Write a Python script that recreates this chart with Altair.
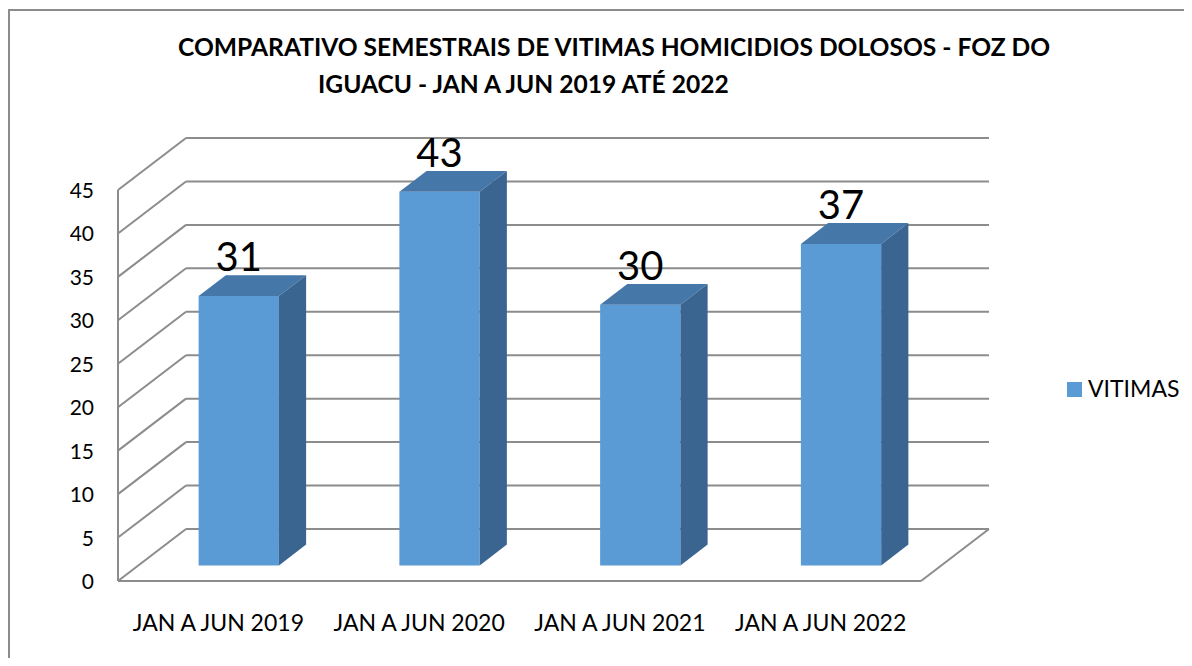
import altair as alt
import pandas as pd

# ---------------- data ----------------
categories = ["JAN A JUN 2019", "JAN A JUN 2020", "JAN A JUN 2021", "JAN A JUN 2022"]
vitimas = [31, 43, 30, 37]
y_ticks = [0, 5, 10, 15, 20, 25, 30, 35, 40, 45]
series_name = "VITIMAS"
title_lines = [
    "COMPARATIVO SEMESTRAIS DE VITIMAS HOMICIDIOS DOLOSOS - FOZ DO",
    "IGUACU - JAN A JUN 2019 ATÉ 2022",
]

# ---------------- layout / style ----------------
W, H = 1176, 650
PX_CAT = 200.75          # pixels per category slot
PX_VAL = 8.689           # pixels per value unit
X0 = 110                 # view px of front-left corner of floor
Y0 = 573                 # view px of value 0 on the front plane
DEPTH_X = 68 / PX_CAT    # oblique depth in category units
DEPTH_Y = 52 / PX_VAL    # oblique depth in value units
BAR_W = 0.4
BAR_D0, BAR_D1 = 0.3, 0.7
FONT = "Lato"
GRID = "#8c8c8c"
FRONT, TOP, SIDE = "#5b9bd5", "#4677a9", "#3a6591"

n = len(categories)
y_max = max(y_ticks)

xs = alt.Scale(domain=[-X0 / PX_CAT, (W - X0) / PX_CAT], nice=False, zero=False)
ys = alt.Scale(domain=[-(H - Y0) / PX_VAL, Y0 / PX_VAL], nice=False, zero=False)

# ---------------- grid (walls and floor) ----------------
seg = []
for t in y_ticks:
    seg.append(dict(x=DEPTH_X, x2=n + DEPTH_X, y=t + DEPTH_Y, y2=t + DEPTH_Y))
    seg.append(dict(x=0, x2=DEPTH_X, y=t, y2=t + DEPTH_Y))
seg.append(dict(x=0, x2=0, y=0, y2=y_max))
seg.append(dict(x=0, x2=n, y=0, y2=0))
seg.append(dict(x=n, x2=n + DEPTH_X, y=0, y2=DEPTH_Y))
seg_df = pd.DataFrame(seg)

grid = alt.Chart(seg_df).mark_rule(color=GRID, strokeWidth=2).encode(
    x=alt.X("x:Q", scale=xs, axis=None),
    x2="x2:Q",
    y=alt.Y("y:Q", scale=ys, axis=None),
    y2="y2:Q",
)

# ---------------- bars ----------------
dD = (BAR_D1 - BAR_D0) * DEPTH_X
dY = (BAR_D1 - BAR_D0) * DEPTH_Y
front_rows, top_rows, side_rows, lab_rows = [], [], [], []
for i, (c, v) in enumerate(zip(categories, vitimas)):
    cx = i + 0.5 + BAR_D0 * DEPTH_X
    xl, xr = cx - BAR_W / 2, cx + BAR_W / 2
    bot = BAR_D0 * DEPTH_Y
    top = v + bot
    front_rows.append(dict(cat=c, series=series_name, xl=xl, xr=xr, bot=bot, top=top))
    for px, lo, hi in [(xl, top, top), (xl + dD, top, top + dY),
                       (xr, top, top + dY), (xr + dD, top + dY, top + dY)]:
        top_rows.append(dict(cat=c, x=px, lo=lo, hi=hi))
    for px, lo, hi in [(xr, bot, top), (xr + dD, bot + dY, top + dY)]:
        side_rows.append(dict(cat=c, x=px, lo=lo, hi=hi))
    lab_rows.append(dict(cat=c, x=cx, y=v + BAR_D1 * DEPTH_Y, label=str(v)))

front = alt.Chart(pd.DataFrame(front_rows)).mark_rect().encode(
    x=alt.X("xl:Q", scale=xs, axis=None),
    x2="xr:Q",
    y=alt.Y("bot:Q", scale=ys, axis=None),
    y2="top:Q",
    color=alt.Color(
        "series:N",
        scale=alt.Scale(domain=[series_name], range=[FRONT]),
        legend=alt.Legend(
            orient="none", legendX=1055, legendY=370, title=None,
            symbolType="square", symbolSize=225, symbolStrokeWidth=0,
            labelFontSize=23, labelFont=FONT, labelColor="#000000",
            labelOffset=2, padding=0,
        ),
    ),
)

tops = alt.Chart(pd.DataFrame(top_rows)).mark_area(color=TOP, opacity=1).encode(
    x=alt.X("x:Q", scale=xs, axis=None),
    y=alt.Y("lo:Q", scale=ys, axis=None, stack=None),
    y2="hi:Q",
    detail="cat:N",
)

sides = alt.Chart(pd.DataFrame(side_rows)).mark_area(color=SIDE, opacity=1).encode(
    x=alt.X("x:Q", scale=xs, axis=None),
    y=alt.Y("lo:Q", scale=ys, axis=None, stack=None),
    y2="hi:Q",
    detail="cat:N",
)

labels = alt.Chart(pd.DataFrame(lab_rows)).mark_text(
    font=FONT, fontSize=40, color="#000000", baseline="alphabetic", dy=-4
).encode(
    x=alt.X("x:Q", scale=xs, axis=None),
    y=alt.Y("y:Q", scale=ys, axis=None),
    text="label:N",
)

# ---------------- axis texts ----------------
ytick_df = pd.DataFrame({"t": y_ticks, "lab": [str(t) for t in y_ticks]})
ylabels = alt.Chart(ytick_df).mark_text(
    font=FONT, fontSize=21, color="#000000", align="right", baseline="middle", dy=2
).encode(
    x=alt.value(86),
    y=alt.Y("t:Q", scale=ys, axis=None),
    text="lab:N",
)

xcat_df = pd.DataFrame({"cat": categories, "pos": [i + 0.5 for i in range(n)]})
xlabels = alt.Chart(xcat_df).mark_text(
    font=FONT, fontSize=23, color="#000000", align="center", baseline="alphabetic"
).encode(
    x=alt.X("pos:Q", scale=xs, axis=None),
    y=alt.value(623),
    text="cat:N",
)

# ---------------- title ----------------
title_pos = [(170, 48), (310, 85)]
title_layers = []
for line, (tx, ty) in zip(title_lines, title_pos):
    title_layers.append(
        alt.Chart(pd.DataFrame({"t": [line]})).mark_text(
            font=FONT, fontSize=24.6, fontWeight="bold", color="#000000",
            align="left", baseline="alphabetic"
        ).encode(x=alt.value(tx), y=alt.value(ty), text="t:N")
    )

# ---------------- frame (left and top edges) ----------------
one = pd.DataFrame({"k": [0]})
frame_v = alt.Chart(one).mark_rule(color=GRID, strokeWidth=2).encode(
    x=alt.value(1), y=alt.value(2), y2=alt.value(H)
)
frame_h = alt.Chart(one).mark_rule(color=GRID, strokeWidth=2).encode(
    x=alt.value(0), x2=alt.value(W), y=alt.value(2)
)

chart = alt.layer(
    frame_v, frame_h, grid, front, tops, sides, labels, ylabels, xlabels, *title_layers
).properties(
    width=W, height=H,
    autosize=alt.AutoSizeParams(type="none"),
    padding={"left": 0, "top": 0, "right": 0, "bottom": 0},
    background="#ffffff",
).configure_view(stroke=None)

chart.save("out.html", embed_options={"renderer": "svg", "actions": False})
